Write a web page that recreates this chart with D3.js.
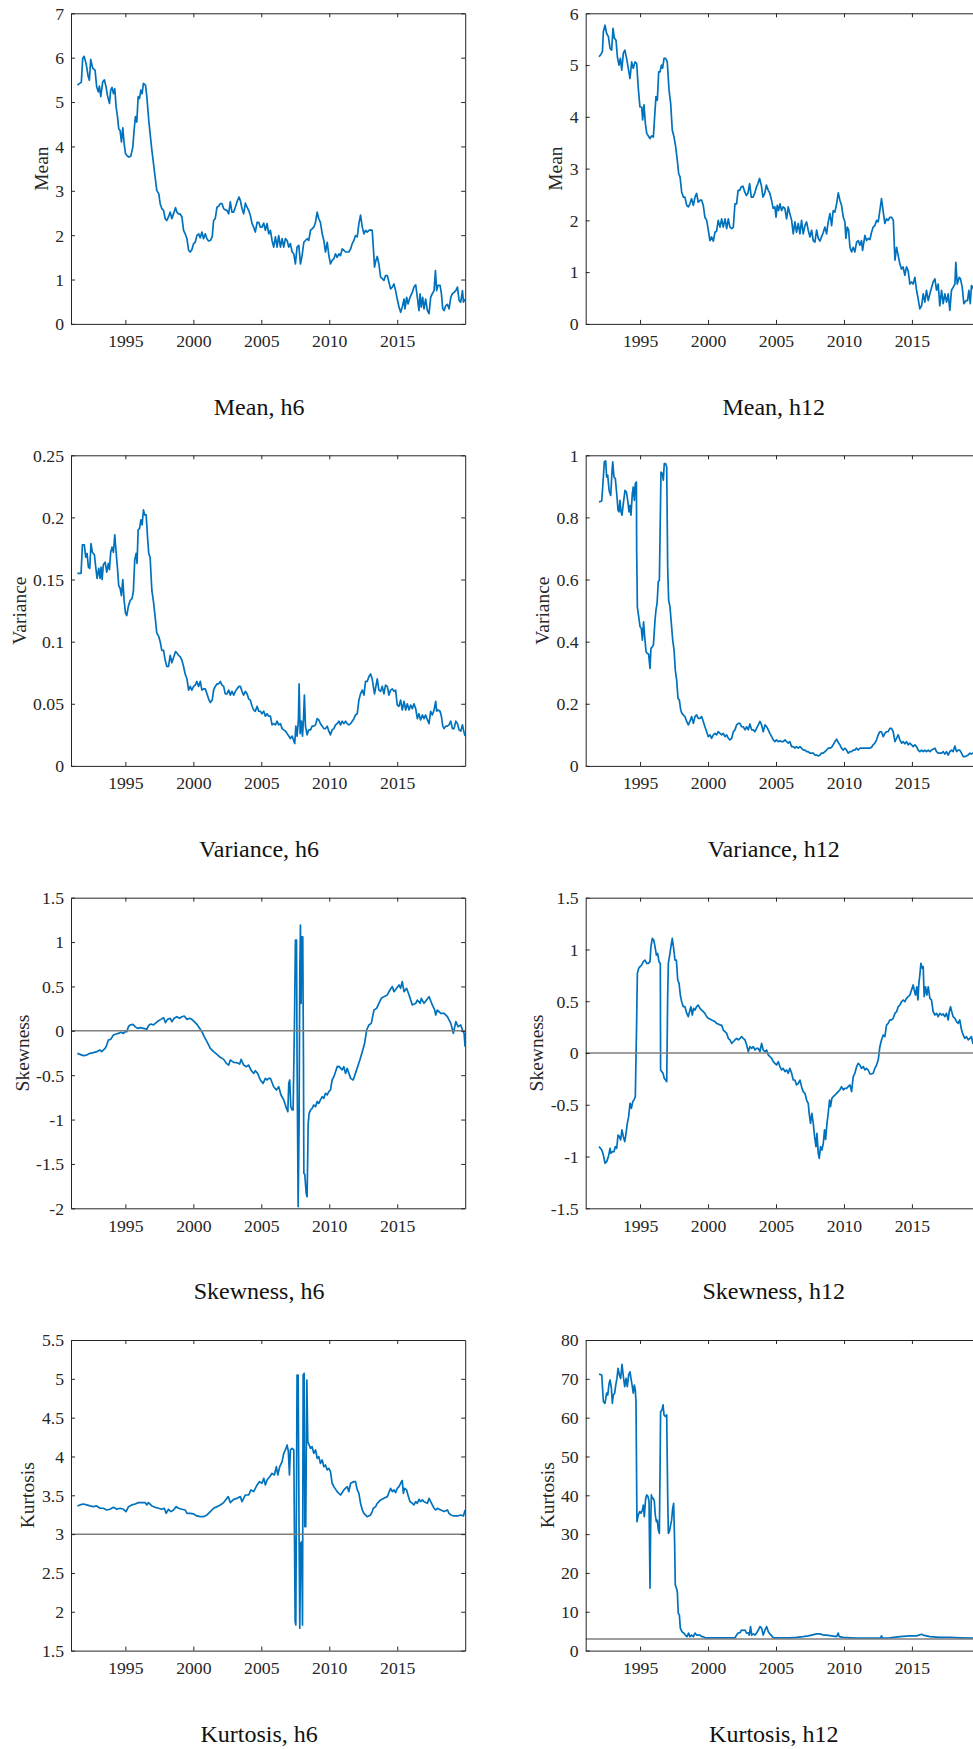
<!DOCTYPE html>
<html><head><meta charset="utf-8">
<script src="https://cdn.jsdelivr.net/npm/d3@7"></script>
<style>
html,body{margin:0;padding:0;background:#fff;overflow:hidden;}
svg{display:block;}
</style></head><body>
<svg id="chart" width="973" height="1749"></svg>
<script>
// ---------- shared axis data ----------
const xDomain = [1991, 2020];
const xTicks = [1995, 2000, 2005, 2010, 2015];

// ---------- y tick values ----------
const meanH6Ticks = [0,1,2,3,4,5,6,7];
const meanH12Ticks = [0,1,2,3,4,5,6];
const varH6Ticks = [0,0.05,0.1,0.15,0.2,0.25];
const varH12Ticks = [0,0.2,0.4,0.6,0.8,1];
const skewH6Ticks = [-2,-1.5,-1,-0.5,0,0.5,1,1.5];
const skewH12Ticks = [-1.5,-1,-0.5,0,0.5,1,1.5];
const kurtH6Ticks = [1.5,2,2.5,3,3.5,4,4.5,5,5.5];
const kurtH12Ticks = [0,10,20,30,40,50,60,70,80];

// ---------- series: [year, value] ----------
const meanH6 = [[1991.47,5.38],[1991.76,5.45],[1991.86,5.98],[1991.96,6.03],[1992.11,5.87],[1992.25,5.6],[1992.35,5.49],[1992.45,5.96],[1992.60,5.76],[1992.77,5.72],[1992.89,5.34],[1993.01,5.23],[1993.09,5.36],[1993.19,5.12],[1993.33,5.45],[1993.46,5.5],[1993.58,5.34],[1993.68,5.15],[1993.83,4.97],[1993.92,5.27],[1994.02,5.33],[1994.12,5.19],[1994.22,5.30],[1994.32,4.89],[1994.42,4.67],[1994.51,4.40],[1994.61,4.36],[1994.71,4.1],[1994.81,4.42],[1994.91,4.06],[1995.01,3.84],[1995.10,3.8],[1995.25,3.76],[1995.40,3.78],[1995.55,3.99],[1995.64,4.36],[1995.74,4.67],[1995.84,4.55],[1995.94,5.12],[1996.04,5.08],[1996.14,5.27],[1996.23,5.19],[1996.33,5.42],[1996.48,5.38],[1996.58,5.12],[1996.72,4.59],[1996.82,4.29],[1996.95,3.91],[1997.07,3.61],[1997.19,3.31],[1997.31,3.01],[1997.46,2.93],[1997.56,2.71],[1997.68,2.6],[1997.81,2.56],[1997.93,2.37],[1998.05,2.33],[1998.17,2.41],[1998.30,2.52],[1998.42,2.37],[1998.54,2.48],[1998.69,2.62],[1998.79,2.52],[1998.91,2.48],[1999.03,2.48],[1999.16,2.41],[1999.28,2.11],[1999.40,2.03],[1999.53,1.92],[1999.65,1.66],[1999.77,1.62],[1999.89,1.67],[2000.02,1.81],[2000.14,1.84],[2000.26,1.99],[2000.39,2.03],[2000.51,1.94],[2000.63,2.07],[2000.75,1.92],[2000.88,2.03],[2001.00,1.92],[2001.12,1.87],[2001.25,1.88],[2001.39,1.96],[2001.49,2.33],[2001.61,2.37],[2001.74,2.63],[2001.86,2.65],[2001.98,2.71],[2002.11,2.71],[2002.23,2.6],[2002.35,2.57],[2002.47,2.56],[2002.60,2.48],[2002.72,2.75],[2002.84,2.52],[2002.97,2.52],[2003.09,2.63],[2003.21,2.75],[2003.36,2.86],[2003.46,2.78],[2003.58,2.6],[2003.70,2.48],[2003.83,2.72],[2003.95,2.63],[2004.07,2.56],[2004.19,2.45],[2004.32,2.26],[2004.44,2.18],[2004.56,2.07],[2004.69,2.29],[2004.81,2.29],[2004.93,2.18],[2005.05,2.18],[2005.18,2.27],[2005.30,2.11],[2005.42,2.26],[2005.55,2.03],[2005.67,2.11],[2005.79,1.88],[2005.91,1.73],[2006.04,1.96],[2006.16,1.73],[2006.28,1.99],[2006.41,1.73],[2006.53,1.92],[2006.65,1.73],[2006.77,1.92],[2006.90,1.88],[2007.02,1.73],[2007.14,1.81],[2007.27,1.62],[2007.39,1.58],[2007.51,1.35],[2007.63,1.73],[2007.76,1.77],[2007.88,1.35],[2008.00,1.54],[2008.13,1.84],[2008.25,1.88],[2008.37,1.92],[2008.49,1.88],[2008.62,2.11],[2008.74,2.14],[2008.86,2.18],[2008.99,2.29],[2009.11,2.52],[2009.23,2.37],[2009.35,2.29],[2009.48,2.03],[2009.60,1.88],[2009.72,1.62],[2009.85,1.84],[2009.97,1.54],[2010.09,1.35],[2010.21,1.43],[2010.34,1.47],[2010.46,1.58],[2010.58,1.5],[2010.71,1.58],[2010.83,1.54],[2010.95,1.69],[2011.07,1.66],[2011.20,1.62],[2011.32,1.62],[2011.44,1.62],[2011.57,1.69],[2011.69,1.81],[2011.81,1.88],[2011.93,1.99],[2012.06,1.96],[2012.18,2.26],[2012.30,2.45],[2012.43,2.18],[2012.55,2.03],[2012.67,2.11],[2012.79,2.07],[2012.92,2.11],[2013.04,2.12],[2013.16,2.11],[2013.24,1.73],[2013.33,1.28],[2013.43,1.43],[2013.53,1.52],[2013.65,1.35],[2013.78,1.05],[2013.90,1.02],[2014.02,0.98],[2014.14,1.09],[2014.27,1.09],[2014.39,0.94],[2014.51,0.79],[2014.64,0.83],[2014.76,0.9],[2014.88,0.75],[2015.00,0.56],[2015.13,0.38],[2015.25,0.26],[2015.37,0.38],[2015.50,0.56],[2015.57,0.34],[2015.69,0.6],[2015.79,0.45],[2015.94,0.6],[2016.11,0.71],[2016.23,0.83],[2016.36,0.88],[2016.48,0.6],[2016.60,0.3],[2016.68,0.68],[2016.77,0.38],[2016.87,0.6],[2016.97,0.34],[2017.09,0.56],[2017.22,0.3],[2017.34,0.23],[2017.46,0.6],[2017.58,0.68],[2017.71,0.75],[2017.81,1.2],[2017.90,0.75],[2018.00,0.87],[2018.15,0.87],[2018.25,0.68],[2018.35,0.34],[2018.45,0.3],[2018.57,0.41],[2018.69,0.44],[2018.81,0.34],[2018.94,0.6],[2019.06,0.68],[2019.18,0.71],[2019.31,0.75],[2019.43,0.83],[2019.55,0.53],[2019.67,0.49],[2019.80,0.75],[2019.87,0.49],[2019.99,0.56]];

const meanH12 = [[1991.98,5.16],[1992.13,5.21],[1992.23,5.26],[1992.30,5.65],[1992.42,5.77],[1992.54,5.61],[1992.67,5.55],[1992.79,5.32],[1992.91,5.29],[1993.01,5.71],[1993.11,5.52],[1993.23,5.48],[1993.33,5.16],[1993.45,5.0],[1993.55,5.13],[1993.65,4.90],[1993.77,5.23],[1993.88,5.29],[1994.01,5.13],[1994.13,4.94],[1994.26,4.74],[1994.38,5.06],[1994.50,4.94],[1994.63,5.06],[1994.75,5.03],[1994.87,4.55],[1994.99,4.19],[1995.12,4.19],[1995.19,3.94],[1995.29,4.23],[1995.39,3.87],[1995.49,3.68],[1995.61,3.63],[1995.73,3.58],[1995.85,3.63],[1995.98,3.61],[1996.07,4.0],[1996.17,4.39],[1996.27,4.32],[1996.37,4.87],[1996.47,4.87],[1996.57,5.0],[1996.66,4.94],[1996.76,5.13],[1996.88,5.13],[1997.00,5.06],[1997.13,4.52],[1997.25,4.26],[1997.37,3.74],[1997.50,3.61],[1997.62,3.42],[1997.74,3.16],[1997.84,2.9],[1997.94,2.84],[1998.06,2.55],[1998.18,2.45],[1998.30,2.45],[1998.43,2.29],[1998.55,2.26],[1998.67,2.32],[1998.79,2.42],[1998.92,2.29],[1999.04,2.45],[1999.16,2.52],[1999.28,2.35],[1999.41,2.39],[1999.53,2.39],[1999.65,2.29],[1999.77,2.06],[1999.90,2.0],[2000.02,1.81],[2000.14,1.61],[2000.26,1.68],[2000.39,1.60],[2000.51,1.77],[2000.63,1.79],[2000.75,2.0],[2000.88,1.87],[2001.00,2.03],[2001.12,1.87],[2001.25,2.03],[2001.37,1.84],[2001.49,2.03],[2001.61,1.87],[2001.74,1.84],[2001.86,1.87],[2001.98,2.32],[2002.10,2.32],[2002.21,2.58],[2002.33,2.58],[2002.45,2.65],[2002.57,2.66],[2002.70,2.55],[2002.82,2.48],[2002.94,2.53],[2003.06,2.71],[2003.18,2.45],[2003.31,2.45],[2003.43,2.52],[2003.57,2.65],[2003.67,2.71],[2003.79,2.81],[2003.92,2.68],[2004.04,2.45],[2004.17,2.52],[2004.29,2.68],[2004.43,2.58],[2004.55,2.52],[2004.67,2.39],[2004.79,2.23],[2004.92,2.26],[2005.00,2.06],[2005.09,2.29],[2005.19,2.19],[2005.29,2.32],[2005.41,2.19],[2005.53,2.26],[2005.65,2.23],[2005.78,2.03],[2005.90,2.26],[2006.02,2.13],[2006.15,2.0],[2006.27,1.74],[2006.39,1.97],[2006.51,1.77],[2006.64,1.94],[2006.76,1.74],[2006.88,2.0],[2007.00,1.74],[2007.13,1.90],[2007.25,1.97],[2007.37,1.81],[2007.50,1.68],[2007.62,1.81],[2007.74,1.61],[2007.86,1.58],[2007.99,1.81],[2008.11,1.65],[2008.23,1.60],[2008.35,1.68],[2008.48,1.77],[2008.60,1.87],[2008.72,1.74],[2008.84,1.97],[2008.97,2.13],[2009.09,1.90],[2009.21,2.19],[2009.33,2.16],[2009.46,2.32],[2009.58,2.53],[2009.70,2.39],[2009.82,2.29],[2009.95,2.06],[2010.07,1.97],[2010.14,1.65],[2010.24,1.87],[2010.34,1.81],[2010.44,1.48],[2010.56,1.39],[2010.68,1.48],[2010.80,1.39],[2010.93,1.58],[2011.05,1.61],[2011.17,1.52],[2011.29,1.61],[2011.37,1.42],[2011.54,1.71],[2011.66,1.61],[2011.78,1.65],[2011.91,1.63],[2012.03,1.77],[2012.15,1.87],[2012.27,1.90],[2012.40,2.0],[2012.52,1.97],[2012.64,2.19],[2012.76,2.42],[2012.89,2.16],[2013.01,1.94],[2013.13,2.03],[2013.25,2.0],[2013.38,2.06],[2013.50,2.06],[2013.63,2.0],[2013.75,1.23],[2013.87,1.48],[2013.99,1.32],[2014.11,1.16],[2014.23,1.06],[2014.35,1.10],[2014.48,0.94],[2014.60,1.10],[2014.72,1.03],[2014.85,0.77],[2014.97,0.81],[2015.09,0.77],[2015.22,0.90],[2015.34,0.65],[2015.46,0.48],[2015.58,0.29],[2015.71,0.35],[2015.83,0.58],[2015.95,0.42],[2016.07,0.65],[2016.20,0.45],[2016.32,0.58],[2016.44,0.70],[2016.56,0.81],[2016.69,0.87],[2016.81,0.65],[2016.93,0.77],[2017.05,0.35],[2017.18,0.65],[2017.30,0.39],[2017.42,0.58],[2017.55,0.42],[2017.67,0.58],[2017.79,0.26],[2017.91,0.65],[2018.04,0.71],[2018.16,0.77],[2018.23,1.19],[2018.33,0.77],[2018.48,0.90],[2018.57,0.87],[2018.70,0.71],[2018.82,0.39],[2018.97,0.45],[2019.09,0.45],[2019.19,0.65],[2019.29,0.39],[2019.38,0.74],[2019.48,0.71],[2019.60,0.62]];

const varH6 = [[1991.47,0.155],[1991.74,0.155],[1991.84,0.178],[1991.98,0.178],[1992.08,0.168],[1992.18,0.171],[1992.28,0.160],[1992.38,0.159],[1992.47,0.179],[1992.57,0.172],[1992.72,0.170],[1992.82,0.160],[1992.92,0.151],[1993.04,0.159],[1993.14,0.151],[1993.21,0.160],[1993.29,0.150],[1993.38,0.162],[1993.51,0.164],[1993.63,0.156],[1993.75,0.163],[1993.83,0.158],[1993.92,0.172],[1994.02,0.176],[1994.12,0.172],[1994.22,0.186],[1994.32,0.172],[1994.42,0.159],[1994.51,0.145],[1994.61,0.143],[1994.71,0.137],[1994.81,0.150],[1994.91,0.133],[1995.01,0.123],[1995.10,0.121],[1995.23,0.129],[1995.35,0.133],[1995.50,0.135],[1995.59,0.141],[1995.69,0.166],[1995.79,0.171],[1995.86,0.163],[1995.94,0.190],[1996.04,0.191],[1996.14,0.198],[1996.23,0.194],[1996.33,0.206],[1996.43,0.202],[1996.53,0.202],[1996.63,0.184],[1996.72,0.171],[1996.82,0.168],[1996.95,0.141],[1997.07,0.132],[1997.19,0.120],[1997.31,0.107],[1997.46,0.104],[1997.56,0.100],[1997.68,0.093],[1997.81,0.093],[1997.93,0.085],[1998.05,0.080],[1998.17,0.080],[1998.30,0.089],[1998.42,0.083],[1998.54,0.087],[1998.69,0.092],[1998.79,0.091],[1998.91,0.089],[1999.03,0.088],[1999.16,0.085],[1999.28,0.080],[1999.40,0.074],[1999.53,0.070],[1999.65,0.061],[1999.77,0.064],[1999.89,0.061],[2000.02,0.064],[2000.14,0.065],[2000.26,0.068],[2000.39,0.064],[2000.51,0.068],[2000.63,0.061],[2000.75,0.062],[2000.88,0.062],[2001.00,0.058],[2001.12,0.054],[2001.25,0.051],[2001.39,0.053],[2001.49,0.061],[2001.61,0.064],[2001.74,0.066],[2001.86,0.066],[2001.98,0.068],[2002.11,0.065],[2002.23,0.064],[2002.35,0.058],[2002.47,0.058],[2002.60,0.061],[2002.72,0.057],[2002.84,0.060],[2002.97,0.057],[2003.09,0.060],[2003.21,0.062],[2003.36,0.064],[2003.46,0.064],[2003.58,0.060],[2003.70,0.057],[2003.83,0.060],[2003.95,0.058],[2004.07,0.054],[2004.19,0.053],[2004.32,0.048],[2004.44,0.045],[2004.56,0.044],[2004.69,0.048],[2004.81,0.044],[2004.93,0.044],[2005.05,0.042],[2005.18,0.044],[2005.30,0.040],[2005.42,0.042],[2005.55,0.040],[2005.67,0.040],[2005.79,0.033],[2005.91,0.034],[2006.04,0.033],[2006.16,0.036],[2006.28,0.033],[2006.41,0.034],[2006.53,0.030],[2006.65,0.029],[2006.77,0.028],[2006.90,0.026],[2007.02,0.024],[2007.14,0.022],[2007.27,0.024],[2007.39,0.020],[2007.46,0.018],[2007.54,0.032],[2007.63,0.024],[2007.73,0.037],[2007.78,0.066],[2007.86,0.026],[2007.95,0.036],[2008.03,0.024],[2008.10,0.037],[2008.17,0.057],[2008.25,0.032],[2008.37,0.025],[2008.49,0.029],[2008.62,0.029],[2008.74,0.032],[2008.86,0.032],[2008.99,0.033],[2009.11,0.038],[2009.23,0.037],[2009.35,0.034],[2009.48,0.032],[2009.60,0.030],[2009.72,0.030],[2009.85,0.032],[2009.97,0.028],[2010.09,0.025],[2010.21,0.029],[2010.34,0.030],[2010.46,0.033],[2010.58,0.034],[2010.71,0.036],[2010.83,0.033],[2010.95,0.036],[2011.07,0.034],[2011.20,0.036],[2011.32,0.034],[2011.44,0.033],[2011.57,0.034],[2011.69,0.036],[2011.81,0.038],[2011.93,0.041],[2012.06,0.042],[2012.18,0.053],[2012.30,0.058],[2012.43,0.061],[2012.55,0.057],[2012.67,0.068],[2012.79,0.068],[2012.92,0.072],[2013.04,0.074],[2013.16,0.070],[2013.24,0.064],[2013.33,0.058],[2013.43,0.064],[2013.53,0.070],[2013.65,0.061],[2013.78,0.060],[2013.90,0.064],[2014.02,0.058],[2014.14,0.065],[2014.27,0.064],[2014.39,0.057],[2014.51,0.061],[2014.64,0.062],[2014.76,0.060],[2014.88,0.061],[2015.00,0.049],[2015.13,0.048],[2015.25,0.053],[2015.37,0.045],[2015.50,0.052],[2015.62,0.045],[2015.74,0.050],[2015.87,0.045],[2015.99,0.049],[2016.11,0.046],[2016.23,0.050],[2016.36,0.046],[2016.48,0.038],[2016.60,0.042],[2016.72,0.037],[2016.85,0.041],[2016.97,0.038],[2017.09,0.041],[2017.22,0.037],[2017.34,0.034],[2017.46,0.044],[2017.58,0.041],[2017.71,0.045],[2017.83,0.052],[2017.90,0.044],[2018.00,0.045],[2018.15,0.044],[2018.25,0.040],[2018.35,0.032],[2018.45,0.030],[2018.57,0.032],[2018.69,0.032],[2018.81,0.033],[2018.94,0.036],[2019.06,0.030],[2019.18,0.030],[2019.31,0.036],[2019.43,0.034],[2019.55,0.029],[2019.67,0.028],[2019.80,0.033],[2019.89,0.028],[2019.99,0.024]];

const varH12 = [[1991.98,0.850],[1992.18,0.853],[1992.30,0.930],[1992.37,0.979],[1992.47,0.982],[1992.54,0.930],[1992.62,0.936],[1992.72,0.887],[1992.84,0.871],[1992.94,0.952],[1992.99,0.979],[1993.08,0.930],[1993.18,0.925],[1993.28,0.877],[1993.38,0.823],[1993.45,0.818],[1993.52,0.855],[1993.60,0.818],[1993.67,0.807],[1993.77,0.845],[1993.89,0.887],[1993.99,0.882],[1994.09,0.855],[1994.19,0.818],[1994.26,0.839],[1994.33,0.807],[1994.43,0.877],[1994.50,0.898],[1994.58,0.855],[1994.65,0.909],[1994.73,0.914],[1994.75,0.695],[1994.80,0.512],[1994.90,0.480],[1995.00,0.448],[1995.09,0.443],[1995.17,0.405],[1995.26,0.464],[1995.34,0.416],[1995.44,0.368],[1995.53,0.362],[1995.63,0.360],[1995.73,0.314],[1995.80,0.378],[1995.90,0.384],[1995.98,0.389],[1996.10,0.469],[1996.17,0.502],[1996.25,0.523],[1996.34,0.593],[1996.42,0.598],[1996.49,0.802],[1996.54,0.946],[1996.64,0.941],[1996.71,0.920],[1996.78,0.973],[1996.88,0.973],[1996.96,0.962],[1997.03,0.641],[1997.10,0.534],[1997.20,0.512],[1997.30,0.459],[1997.40,0.405],[1997.50,0.373],[1997.59,0.309],[1997.69,0.277],[1997.79,0.218],[1997.89,0.212],[1997.99,0.180],[1998.08,0.169],[1998.18,0.164],[1998.30,0.159],[1998.43,0.143],[1998.55,0.132],[1998.67,0.143],[1998.79,0.159],[1998.92,0.137],[1999.04,0.159],[1999.16,0.164],[1999.28,0.153],[1999.41,0.153],[1999.53,0.159],[1999.65,0.143],[1999.77,0.126],[1999.90,0.110],[2000.02,0.094],[2000.14,0.100],[2000.26,0.089],[2000.39,0.100],[2000.51,0.105],[2000.63,0.100],[2000.75,0.110],[2000.88,0.105],[2001.00,0.100],[2001.12,0.105],[2001.25,0.094],[2001.37,0.100],[2001.49,0.089],[2001.61,0.084],[2001.74,0.089],[2001.86,0.110],[2001.98,0.116],[2002.10,0.132],[2002.23,0.137],[2002.35,0.137],[2002.47,0.126],[2002.59,0.126],[2002.72,0.116],[2002.84,0.126],[2002.96,0.116],[2003.08,0.135],[2003.21,0.116],[2003.33,0.116],[2003.45,0.110],[2003.57,0.121],[2003.70,0.132],[2003.82,0.143],[2003.94,0.132],[2004.06,0.110],[2004.19,0.132],[2004.31,0.126],[2004.43,0.116],[2004.55,0.105],[2004.68,0.094],[2004.80,0.084],[2004.92,0.078],[2005.04,0.084],[2005.17,0.078],[2005.29,0.081],[2005.41,0.078],[2005.53,0.078],[2005.66,0.084],[2005.78,0.078],[2005.90,0.073],[2006.02,0.078],[2006.15,0.062],[2006.27,0.062],[2006.39,0.057],[2006.51,0.062],[2006.64,0.057],[2006.76,0.062],[2006.88,0.057],[2007.00,0.051],[2007.13,0.051],[2007.25,0.046],[2007.37,0.046],[2007.49,0.041],[2007.62,0.041],[2007.74,0.041],[2007.86,0.035],[2007.99,0.035],[2008.11,0.032],[2008.23,0.035],[2008.35,0.041],[2008.48,0.041],[2008.60,0.046],[2008.72,0.051],[2008.84,0.057],[2008.97,0.057],[2009.09,0.060],[2009.21,0.068],[2009.33,0.078],[2009.46,0.086],[2009.58,0.075],[2009.70,0.068],[2009.82,0.057],[2009.95,0.051],[2010.07,0.057],[2010.19,0.051],[2010.31,0.041],[2010.44,0.046],[2010.56,0.046],[2010.68,0.051],[2010.80,0.051],[2010.93,0.057],[2011.05,0.051],[2011.17,0.057],[2011.29,0.057],[2011.42,0.057],[2011.54,0.057],[2011.66,0.057],[2011.78,0.057],[2011.91,0.057],[2012.03,0.060],[2012.15,0.068],[2012.27,0.073],[2012.40,0.084],[2012.52,0.100],[2012.64,0.110],[2012.76,0.110],[2012.89,0.094],[2013.01,0.105],[2013.13,0.110],[2013.25,0.110],[2013.38,0.121],[2013.50,0.121],[2013.62,0.110],[2013.75,0.078],[2013.87,0.089],[2013.99,0.100],[2014.11,0.084],[2014.24,0.073],[2014.36,0.078],[2014.48,0.071],[2014.60,0.078],[2014.73,0.068],[2014.85,0.073],[2014.97,0.068],[2015.09,0.062],[2015.22,0.068],[2015.34,0.062],[2015.46,0.051],[2015.58,0.046],[2015.71,0.051],[2015.83,0.046],[2015.95,0.051],[2016.07,0.046],[2016.20,0.051],[2016.32,0.046],[2016.44,0.051],[2016.56,0.054],[2016.69,0.057],[2016.81,0.046],[2016.93,0.041],[2017.05,0.041],[2017.18,0.041],[2017.30,0.046],[2017.42,0.038],[2017.54,0.046],[2017.67,0.035],[2017.79,0.046],[2017.91,0.051],[2018.03,0.046],[2018.16,0.064],[2018.28,0.046],[2018.40,0.051],[2018.52,0.051],[2018.65,0.041],[2018.77,0.030],[2018.89,0.030],[2019.01,0.032],[2019.14,0.035],[2019.26,0.041],[2019.38,0.038],[2019.48,0.041],[2019.60,0.040]];

const skewH6 = [[1991.47,-0.254],[1991.66,-0.265],[1991.91,-0.280],[1992.15,-0.273],[1992.40,-0.254],[1992.65,-0.246],[1992.89,-0.235],[1993.14,-0.216],[1993.26,-0.235],[1993.51,-0.198],[1993.63,-0.160],[1993.75,-0.104],[1993.92,-0.096],[1994.12,-0.047],[1994.32,-0.036],[1994.49,-0.029],[1994.66,-0.017],[1994.86,-0.029],[1994.98,-0.010],[1995.10,-0.010],[1995.23,0.047],[1995.35,0.066],[1995.55,0.073],[1995.72,0.047],[1995.89,0.028],[1996.09,0.036],[1996.33,0.028],[1996.58,0.017],[1996.70,0.058],[1996.87,0.077],[1997.07,0.066],[1997.27,0.092],[1997.44,0.114],[1997.61,0.129],[1997.81,0.148],[1997.95,0.092],[1998.10,0.129],[1998.30,0.141],[1998.42,0.103],[1998.59,0.141],[1998.79,0.159],[1998.99,0.141],[1999.16,0.159],[1999.33,0.167],[1999.53,0.129],[1999.72,0.141],[1999.89,0.129],[2000.07,0.103],[2000.26,0.073],[2000.46,0.028],[2000.63,-0.010],[2000.80,-0.066],[2001.00,-0.122],[2001.25,-0.198],[2001.49,-0.235],[2001.74,-0.265],[2001.98,-0.299],[2002.23,-0.322],[2002.43,-0.367],[2002.60,-0.386],[2002.72,-0.329],[2002.97,-0.356],[2003.21,-0.359],[2003.41,-0.375],[2003.51,-0.322],[2003.70,-0.386],[2003.90,-0.404],[2004.07,-0.386],[2004.24,-0.442],[2004.44,-0.480],[2004.56,-0.450],[2004.73,-0.480],[2004.93,-0.554],[2005.13,-0.592],[2005.30,-0.535],[2005.42,-0.554],[2005.55,-0.535],[2005.67,-0.535],[2005.91,-0.630],[2006.11,-0.667],[2006.28,-0.630],[2006.45,-0.723],[2006.65,-0.779],[2006.85,-0.873],[2006.95,-0.911],[2007.02,-0.592],[2007.09,-0.554],[2007.17,-0.855],[2007.27,-0.892],[2007.34,-0.892],[2007.44,0.084],[2007.51,1.023],[2007.59,1.023],[2007.63,-0.29],[2007.71,-1.98],[2007.78,-1.04],[2007.83,0.647],[2007.88,1.19],[2007.93,0.31],[2007.98,1.06],[2008.05,1.06],[2008.10,-0.29],[2008.13,-1.605],[2008.20,-1.62],[2008.30,-1.83],[2008.37,-1.87],[2008.45,-1.04],[2008.52,-0.93],[2008.62,-0.892],[2008.74,-0.873],[2008.86,-0.836],[2008.99,-0.855],[2009.11,-0.798],[2009.23,-0.817],[2009.35,-0.779],[2009.48,-0.742],[2009.60,-0.761],[2009.72,-0.704],[2009.85,-0.723],[2009.97,-0.686],[2010.09,-0.667],[2010.21,-0.554],[2010.34,-0.517],[2010.58,-0.404],[2010.71,-0.40],[2010.95,-0.44],[2011.07,-0.404],[2011.20,-0.48],[2011.32,-0.423],[2011.57,-0.536],[2011.76,-0.554],[2012.01,-0.44],[2012.25,-0.329],[2012.43,-0.235],[2012.60,-0.141],[2012.75,0.009],[2012.92,0.066],[2013.09,0.084],[2013.29,0.234],[2013.48,0.253],[2013.65,0.31],[2013.83,0.366],[2014.02,0.385],[2014.27,0.404],[2014.46,0.46],[2014.64,0.498],[2014.76,0.441],[2014.95,0.479],[2015.13,0.517],[2015.25,0.479],[2015.37,0.554],[2015.50,0.441],[2015.69,0.479],[2015.87,0.404],[2016.11,0.291],[2016.36,0.31],[2016.48,0.347],[2016.68,0.31],[2016.77,0.366],[2016.97,0.31],[2017.34,0.385],[2017.58,0.291],[2017.76,0.234],[2017.83,0.178],[2017.95,0.234],[2018.20,0.197],[2018.45,0.197],[2018.69,0.159],[2018.94,0.084],[2019.13,-0.028],[2019.31,0.103],[2019.48,0.047],[2019.67,0.066],[2019.80,0.009],[2019.92,-0.028],[2019.99,-0.18]];

const skewH12 = [[1991.98,-0.904],[1992.18,-0.937],[1992.30,-0.985],[1992.42,-1.065],[1992.54,-1.049],[1992.67,-1.001],[1992.79,-0.921],[1992.86,-0.969],[1992.96,-0.953],[1993.08,-0.953],[1993.18,-0.904],[1993.28,-0.921],[1993.38,-0.792],[1993.48,-0.808],[1993.57,-0.840],[1993.67,-0.743],[1993.77,-0.808],[1993.87,-0.856],[1993.97,-0.776],[1994.06,-0.679],[1994.16,-0.615],[1994.26,-0.486],[1994.36,-0.534],[1994.46,-0.470],[1994.55,-0.454],[1994.65,-0.422],[1994.75,0.319],[1994.80,0.769],[1994.90,0.818],[1995.00,0.834],[1995.12,0.850],[1995.24,0.882],[1995.36,0.898],[1995.49,0.866],[1995.61,0.866],[1995.73,0.882],[1995.80,1.027],[1995.90,1.107],[1996.00,1.091],[1996.10,1.027],[1996.20,0.946],[1996.29,0.962],[1996.39,0.882],[1996.49,0.866],[1996.51,-0.164],[1996.59,-0.180],[1996.69,-0.196],[1996.78,-0.245],[1996.88,-0.261],[1996.96,-0.277],[1997.03,0.544],[1997.08,0.866],[1997.18,0.946],[1997.27,1.027],[1997.37,1.107],[1997.47,1.011],[1997.57,0.898],[1997.67,0.898],[1997.77,0.705],[1997.87,0.673],[1997.96,0.560],[1998.06,0.496],[1998.18,0.447],[1998.30,0.447],[1998.43,0.383],[1998.55,0.351],[1998.67,0.415],[1998.74,0.447],[1998.84,0.367],[1998.94,0.431],[1999.04,0.415],[1999.16,0.447],[1999.28,0.463],[1999.41,0.431],[1999.53,0.415],[1999.65,0.399],[1999.77,0.383],[1999.90,0.351],[2000.02,0.335],[2000.14,0.328],[2000.26,0.319],[2000.39,0.312],[2000.51,0.303],[2000.63,0.286],[2000.75,0.280],[2000.88,0.270],[2001.00,0.270],[2001.12,0.222],[2001.25,0.206],[2001.37,0.190],[2001.49,0.142],[2001.61,0.126],[2001.74,0.093],[2001.86,0.109],[2001.98,0.126],[2002.10,0.142],[2002.23,0.126],[2002.35,0.142],[2002.47,0.158],[2002.59,0.142],[2002.72,0.126],[2002.84,0.077],[2002.96,0.013],[2003.08,0.061],[2003.21,0.045],[2003.33,0.061],[2003.45,0.029],[2003.57,0.045],[2003.70,0.045],[2003.82,0.013],[2003.94,0.093],[2004.06,0.029],[2004.19,0.013],[2004.31,0.029],[2004.43,-0.019],[2004.55,-0.035],[2004.68,-0.051],[2004.80,-0.084],[2004.92,-0.100],[2005.04,-0.116],[2005.17,-0.084],[2005.29,-0.132],[2005.41,-0.164],[2005.53,-0.148],[2005.66,-0.180],[2005.78,-0.164],[2005.90,-0.196],[2006.02,-0.148],[2006.15,-0.196],[2006.27,-0.261],[2006.39,-0.261],[2006.51,-0.309],[2006.64,-0.293],[2006.76,-0.261],[2006.88,-0.325],[2007.00,-0.373],[2007.13,-0.389],[2007.25,-0.454],[2007.37,-0.486],[2007.44,-0.583],[2007.54,-0.679],[2007.64,-0.583],[2007.74,-0.679],[2007.84,-0.808],[2007.94,-0.904],[2008.01,-0.776],[2008.11,-0.969],[2008.18,-1.017],[2008.28,-0.904],[2008.38,-0.937],[2008.48,-0.872],[2008.57,-0.743],[2008.65,-0.834],[2008.75,-0.679],[2008.84,-0.583],[2008.94,-0.454],[2009.01,-0.518],[2009.11,-0.438],[2009.21,-0.422],[2009.33,-0.406],[2009.46,-0.389],[2009.58,-0.373],[2009.70,-0.357],[2009.82,-0.325],[2009.95,-0.357],[2010.07,-0.341],[2010.19,-0.341],[2010.31,-0.325],[2010.44,-0.309],[2010.56,-0.373],[2010.68,-0.229],[2010.80,-0.196],[2010.93,-0.132],[2011.05,-0.100],[2011.17,-0.116],[2011.29,-0.148],[2011.42,-0.132],[2011.54,-0.164],[2011.66,-0.148],[2011.78,-0.164],[2011.91,-0.203],[2012.03,-0.203],[2012.15,-0.196],[2012.27,-0.148],[2012.40,-0.116],[2012.52,-0.068],[2012.64,0.061],[2012.76,0.126],[2012.89,0.174],[2013.01,0.158],[2013.13,0.270],[2013.25,0.286],[2013.38,0.319],[2013.50,0.319],[2013.62,0.335],[2013.75,0.383],[2013.87,0.399],[2013.99,0.447],[2014.11,0.463],[2014.24,0.496],[2014.36,0.512],[2014.48,0.496],[2014.60,0.528],[2014.73,0.544],[2014.85,0.560],[2014.97,0.608],[2015.09,0.657],[2015.17,0.608],[2015.26,0.560],[2015.36,0.640],[2015.44,0.512],[2015.51,0.673],[2015.58,0.753],[2015.66,0.866],[2015.76,0.818],[2015.83,0.834],[2015.90,0.544],[2016.00,0.640],[2016.10,0.560],[2016.20,0.640],[2016.32,0.528],[2016.44,0.512],[2016.56,0.399],[2016.69,0.367],[2016.81,0.383],[2016.93,0.351],[2017.05,0.383],[2017.18,0.367],[2017.30,0.377],[2017.42,0.351],[2017.54,0.383],[2017.67,0.319],[2017.74,0.399],[2017.84,0.447],[2017.93,0.399],[2018.03,0.351],[2018.16,0.335],[2018.28,0.303],[2018.40,0.286],[2018.52,0.319],[2018.65,0.222],[2018.77,0.174],[2018.89,0.142],[2019.01,0.158],[2019.14,0.126],[2019.26,0.142],[2019.38,0.158],[2019.48,0.093],[2019.60,0.10]];

const kurtH6 = [[1991.47,3.363],[1991.66,3.376],[1991.91,3.388],[1992.15,3.376],[1992.40,3.363],[1992.65,3.354],[1992.89,3.363],[1993.14,3.333],[1993.38,3.333],[1993.63,3.311],[1993.87,3.320],[1994.12,3.345],[1994.37,3.320],[1994.61,3.333],[1994.86,3.320],[1995.05,3.290],[1995.23,3.354],[1995.47,3.376],[1995.72,3.388],[1995.96,3.406],[1996.21,3.406],[1996.45,3.406],[1996.58,3.376],[1996.70,3.406],[1996.95,3.363],[1997.19,3.345],[1997.44,3.333],[1997.68,3.320],[1997.86,3.333],[1998.00,3.268],[1998.17,3.320],[1998.35,3.290],[1998.54,3.311],[1998.74,3.354],[1998.91,3.333],[1999.16,3.320],[1999.40,3.311],[1999.53,3.268],[1999.77,3.268],[2000.02,3.260],[2000.26,3.234],[2000.51,3.225],[2000.75,3.225],[2001.00,3.247],[2001.25,3.290],[2001.49,3.333],[2001.74,3.354],[2001.98,3.376],[2002.23,3.406],[2002.47,3.461],[2002.57,3.483],[2002.72,3.406],[2002.97,3.448],[2003.21,3.461],[2003.46,3.483],[2003.58,3.418],[2003.83,3.504],[2004.07,3.504],[2004.24,3.569],[2004.44,3.547],[2004.69,3.633],[2004.88,3.676],[2005.05,3.654],[2005.18,3.719],[2005.30,3.633],[2005.42,3.697],[2005.62,3.740],[2005.79,3.783],[2005.96,3.762],[2006.11,3.869],[2006.21,3.762],[2006.36,3.869],[2006.53,3.933],[2006.65,4.041],[2006.77,4.084],[2006.90,4.148],[2006.99,4.062],[2007.07,3.762],[2007.14,4.084],[2007.27,4.105],[2007.39,4.084],[2007.49,1.873],[2007.54,1.830],[2007.63,5.049],[2007.71,5.049],[2007.78,2.989],[2007.83,1.788],[2007.90,2.882],[2007.98,2.903],[2008.03,1.830],[2008.08,5.049],[2008.15,5.071],[2008.20,3.097],[2008.27,3.097],[2008.35,4.985],[2008.42,4.191],[2008.52,4.148],[2008.62,4.105],[2008.74,4.127],[2008.86,4.041],[2008.99,4.084],[2009.11,3.976],[2009.23,3.998],[2009.35,3.912],[2009.48,3.955],[2009.60,3.869],[2009.72,3.890],[2009.85,3.826],[2009.97,3.848],[2010.09,3.805],[2010.21,3.655],[2010.34,3.612],[2010.58,3.547],[2010.83,3.504],[2011.07,3.569],[2011.32,3.612],[2011.44,3.547],[2011.57,3.655],[2011.81,3.676],[2011.93,3.676],[2012.06,3.569],[2012.18,3.526],[2012.30,3.397],[2012.43,3.311],[2012.55,3.268],[2012.79,3.225],[2013.04,3.247],[2013.16,3.290],[2013.24,3.333],[2013.41,3.354],[2013.53,3.397],[2013.78,3.440],[2014.02,3.461],[2014.27,3.483],[2014.51,3.590],[2014.64,3.547],[2014.76,3.569],[2014.88,3.534],[2015.00,3.590],[2015.13,3.612],[2015.25,3.655],[2015.37,3.690],[2015.45,3.526],[2015.54,3.590],[2015.69,3.569],[2015.79,3.504],[2015.94,3.418],[2016.11,3.397],[2016.23,3.376],[2016.36,3.418],[2016.48,3.397],[2016.60,3.448],[2016.72,3.418],[2016.85,3.440],[2016.97,3.418],[2017.22,3.397],[2017.34,3.461],[2017.46,3.418],[2017.58,3.376],[2017.71,3.333],[2017.83,3.311],[2017.95,3.333],[2018.20,3.311],[2018.45,3.290],[2018.69,3.311],[2018.81,3.268],[2018.94,3.247],[2019.18,3.234],[2019.43,3.234],[2019.67,3.247],[2019.87,3.234],[2019.99,3.311]];

const kurtH12 = [[1991.98,71.2],[1992.18,71.0],[1992.30,64.1],[1992.42,63.7],[1992.54,66.3],[1992.62,65.8],[1992.72,68.8],[1992.79,69.7],[1992.89,67.6],[1992.96,63.7],[1993.03,65.8],[1993.13,66.3],[1993.21,68.4],[1993.30,70.1],[1993.38,72.7],[1993.48,71.0],[1993.57,70.1],[1993.67,73.7],[1993.77,70.6],[1993.87,68.0],[1993.97,70.1],[1994.06,68.0],[1994.16,71.0],[1994.26,71.8],[1994.33,70.1],[1994.43,68.0],[1994.50,66.3],[1994.58,68.4],[1994.65,67.1],[1994.70,64.1],[1994.77,33.2],[1994.87,34.9],[1994.97,35.8],[1995.07,35.4],[1995.17,36.2],[1995.24,37.5],[1995.31,34.5],[1995.41,39.2],[1995.49,40.1],[1995.58,39.7],[1995.66,38.4],[1995.73,16.1],[1995.78,32.4],[1995.83,40.1],[1995.90,39.2],[1995.98,39.2],[1996.05,38.4],[1996.12,34.9],[1996.20,33.2],[1996.27,33.6],[1996.34,31.1],[1996.42,30.2],[1996.47,47.0],[1996.51,61.5],[1996.61,62.0],[1996.69,63.3],[1996.76,60.7],[1996.86,60.3],[1996.96,60.7],[1997.03,40.1],[1997.08,30.2],[1997.15,30.6],[1997.25,32.4],[1997.32,33.6],[1997.40,36.7],[1997.47,37.9],[1997.54,28.1],[1997.59,16.9],[1997.67,16.1],[1997.74,15.2],[1997.81,9.6],[1997.89,9.2],[1997.96,5.8],[1998.08,4.9],[1998.21,4.5],[1998.33,4.0],[1998.45,3.6],[1998.57,4.5],[1998.67,3.6],[1998.79,4.0],[1998.92,3.6],[1999.04,4.5],[1999.16,4.0],[1999.28,4.0],[1999.41,4.0],[1999.53,3.6],[1999.65,3.6],[1999.77,3.3],[1999.90,3.3],[2000.14,3.3],[2000.63,3.3],[2001.12,3.3],[2001.61,3.3],[2001.98,3.3],[2002.10,4.0],[2002.23,4.6],[2002.35,4.6],[2002.47,5.3],[2002.59,5.2],[2002.72,5.3],[2002.84,4.5],[2002.96,4.6],[2003.03,4.0],[2003.13,6.2],[2003.21,4.0],[2003.33,4.3],[2003.45,4.0],[2003.57,4.5],[2003.70,5.3],[2003.82,6.2],[2003.94,5.8],[2004.06,4.0],[2004.19,5.3],[2004.31,6.2],[2004.43,4.9],[2004.55,4.3],[2004.68,3.8],[2004.80,3.3],[2005.04,3.3],[2005.53,3.3],[2006.02,3.3],[2006.51,3.4],[2007.00,3.6],[2007.37,3.8],[2007.62,4.0],[2007.99,4.3],[2008.23,4.3],[2008.48,4.0],[2008.72,4.0],[2009.09,3.8],[2009.46,3.6],[2009.58,4.5],[2009.65,3.6],[2009.95,3.4],[2010.44,3.3],[2010.93,3.2],[2011.66,3.2],[2012.40,3.2],[2012.69,3.2],[2012.76,3.8],[2012.84,3.2],[2013.38,3.3],[2014.11,3.6],[2014.85,3.8],[2015.34,3.8],[2015.71,4.2],[2015.83,4.0],[2016.32,3.6],[2017.05,3.4],[2017.79,3.4],[2018.52,3.3],[2019.48,3.2],[2019.60,3.2]];

// ---------- panel definitions ----------
const panels = [
  {col:0,row:0,data:meanH6,dom:[0,7],ticks:meanH6Ticks,ylabel:"Mean",title:"Mean, h6",ref:null},
  {col:1,row:0,data:meanH12,dom:[0,6],ticks:meanH12Ticks,ylabel:"Mean",title:"Mean, h12",ref:null},
  {col:0,row:1,data:varH6,dom:[0,0.25],ticks:varH6Ticks,ylabel:"Variance",title:"Variance, h6",ref:null},
  {col:1,row:1,data:varH12,dom:[0,1],ticks:varH12Ticks,ylabel:"Variance",title:"Variance, h12",ref:null},
  {col:0,row:2,data:skewH6,dom:[-2,1.5],ticks:skewH6Ticks,ylabel:"Skewness",title:"Skewness, h6",ref:0},
  {col:1,row:2,data:skewH12,dom:[-1.5,1.5],ticks:skewH12Ticks,ylabel:"Skewness",title:"Skewness, h12",ref:0},
  {col:0,row:3,data:kurtH6,dom:[1.5,5.5],ticks:kurtH6Ticks,ylabel:"Kurtosis",title:"Kurtosis, h6",ref:3},
  {col:1,row:3,data:kurtH12,dom:[0,80],ticks:kurtH12Ticks,ylabel:"Kurtosis",title:"Kurtosis, h12",ref:3}
];

// ---------- layout ----------
const colLeft = [71, 585.7];
const rowTop = [13.3, 455.3, 897.7, 1340];
const plotW = 394.2, plotH = 310.6;
const axisColor = '#262626';
const serif = '"Liberation Serif","Times New Roman",Times,serif';
const tickFont = 17.7, labelFont = 19.5, titleFont = 24;

const svg = d3.select('#chart');

panels.forEach((p, i) => {
  const g = svg.append('g').attr('transform', `translate(${colLeft[p.col]},${rowTop[p.row]})`);
  const x = d3.scaleLinear().domain(xDomain).range([0, plotW]);
  const y = d3.scaleLinear().domain(p.dom).range([plotH, 0]);

  const cid = 'clip' + i;
  g.append('clipPath').attr('id', cid).append('rect').attr('width', plotW).attr('height', plotH);

  // data line
  const line = d3.line().x(d => x(d[0])).y(d => y(d[1]));
  g.append('path').datum(p.data)
    .attr('clip-path', `url(#${cid})`)
    .attr('fill', 'none').attr('stroke', '#0072BD').attr('stroke-width', 1.7)
    .attr('stroke-linejoin', 'round').attr('d', line);

  // reference line
  if (p.ref !== null) {
    g.append('line').attr('x1', 0).attr('x2', plotW).attr('y1', y(p.ref)).attr('y2', y(p.ref))
      .attr('stroke', '#7f7f7f').attr('stroke-width', 1.5);
  }

  // axes
  const fmtY = v => String(v);
  const bottom = g.append('g').attr('transform', `translate(0,${plotH})`)
    .call(d3.axisBottom(x).tickValues(xTicks).tickFormat(d3.format('d')).tickSizeInner(-4).tickSizeOuter(0).tickPadding(10.8));
  const top = g.append('g')
    .call(d3.axisTop(x).tickValues(xTicks).tickFormat('').tickSizeInner(-4).tickSizeOuter(0));
  const left = g.append('g')
    .call(d3.axisLeft(y).tickValues(p.ticks).tickFormat(fmtY).tickSizeInner(-4).tickSizeOuter(0).tickPadding(7));
  const right = g.append('g').attr('transform', `translate(${plotW},0)`)
    .call(d3.axisRight(y).tickValues(p.ticks).tickFormat('').tickSizeInner(-4).tickSizeOuter(0));

  [bottom, top, left, right].forEach(a => {
    a.selectAll('path.domain').attr('stroke', axisColor).attr('stroke-width', 1);
    a.selectAll('.tick line').attr('stroke', axisColor).attr('stroke-width', 1);
    a.selectAll('text').attr('fill', axisColor).style('font-family', serif).style('font-size', tickFont + 'px');
  });
  left.selectAll('text').attr('dy', '0.33em');

  // y label
  let maxW = 0;
  left.selectAll('text').each(function () { maxW = Math.max(maxW, this.getComputedTextLength()); });
  const lx = -7 - maxW - 7.5;
  g.append('text').attr('transform', `translate(${lx},${plotH / 2}) rotate(-90)`)
    .attr('text-anchor', 'middle').attr('fill', axisColor)
    .style('font-family', serif).style('font-size', labelFont + 'px')
    .text(p.ylabel);

  // title
  g.append('text').attr('x', plotW / 2 - 9).attr('y', plotH + 91)
    .attr('text-anchor', 'middle').attr('fill', '#111')
    .style('font-family', serif).style('font-size', titleFont + 'px')
    .text(p.title);
});
</script>
</body></html>
